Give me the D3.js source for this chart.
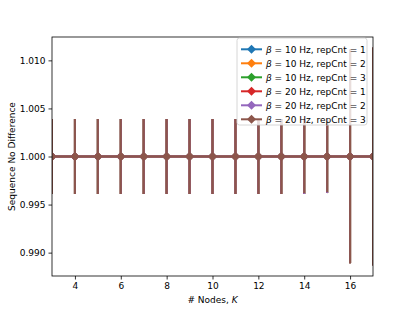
<!DOCTYPE html>
<html>
<head>
<meta charset="utf-8">
<script src="https://cdn.jsdelivr.net/npm/d3@7"></script>
<style>
  body { margin: 0; background: #fff; }
  svg { font-family: "DejaVu Sans", sans-serif; }
</style>
</head>
<body>
<svg id="chart"></svg>
<script>
const nodes = [3, 4, 5, 6, 7, 8, 9, 10, 11, 12, 13, 14, 15, 16, 17]
const seriesLabels = [
    {beta: 10, rep: 1}, {beta: 10, rep: 2}, {beta: 10, rep: 3},
    {beta: 20, rep: 1}, {beta: 20, rep: 2}, {beta: 20, rep: 3}
]
const colors = ["#1f77b4", "#ff7f0e", "#2ca02c", "#d62728", "#9467bd", "#8c564b"]
// every series sits at 1.0; only the spread differs
const means = [
    [1, 1, 1, 1, 1, 1, 1, 1, 1, 1, 1, 1, 1, 1, 1],
    [1, 1, 1, 1, 1, 1, 1, 1, 1, 1, 1, 1, 1, 1, 1],
    [1, 1, 1, 1, 1, 1, 1, 1, 1, 1, 1, 1, 1, 1, 1],
    [1, 1, 1, 1, 1, 1, 1, 1, 1, 1, 1, 1, 1, 1, 1],
    [1, 1, 1, 1, 1, 1, 1, 1, 1, 1, 1, 1, 1, 1, 1],
    [1, 1, 1, 1, 1, 1, 1, 1, 1, 1, 1, 1, 1, 1, 1]
]
const errs = [
    [0.0039, 0.0039, 0.0039, 0.0039, 0.0039, 0.0039, 0.0039, 0.0039, 0.0039, 0.0039, 0.0039, 0.0039, 0.0038, 0.0111, 0.0113],
    [0.0039, 0.0039, 0.0039, 0.0039, 0.0039, 0.0039, 0.0039, 0.0039, 0.0039, 0.0039, 0.0039, 0.0039, 0.0038, 0.0111, 0.0113],
    [0.0039, 0.0039, 0.0039, 0.0039, 0.0039, 0.0039, 0.0039, 0.0039, 0.0039, 0.0039, 0.0039, 0.0039, 0.0038, 0.0111, 0.0113],
    [0.0039, 0.0039, 0.0039, 0.0039, 0.0039, 0.0039, 0.0039, 0.0039, 0.0039, 0.0039, 0.0039, 0.0039, 0.0038, 0.0111, 0.0113],
    [0.0039, 0.0039, 0.0039, 0.0039, 0.0039, 0.0039, 0.0039, 0.0039, 0.0039, 0.0039, 0.0039, 0.0039, 0.0038, 0.0111, 0.0113],
    [0.0039, 0.0039, 0.0039, 0.0039, 0.0039, 0.0039, 0.0039, 0.0039, 0.0039, 0.0039, 0.0039, 0.0038, 0.0037, 0.0111, 0.0113]
]
const xTicks = [4, 6, 8, 10, 12, 14, 16]
const yTicks = [0.990, 0.995, 1.000, 1.005, 1.010]

const width = 415, height = 311
const margin = {top: 37, right: 42, bottom: 35, left: 52}

const x = d3.scaleLinear()
    .domain([3, 17])
    .range([margin.left, width - margin.right])

const y = d3.scaleLinear()
    .domain([0.98757, 1.01243])
    .range([height - margin.bottom, margin.top])

const svg = d3.select("svg#chart")
    .attr("width", width)
    .attr("height", height)

svg.append("defs").append("clipPath")
    .attr("id", "clip")
    .append("rect")
    .attr("x", margin.left).attr("y", margin.top)
    .attr("width", width - margin.left - margin.right)
    .attr("height", height - margin.top - margin.bottom)

const plot = svg.append("g").attr("clip-path", "url(#clip)")

const diamond = (cx, cy, r) => `M${cx},${cy - r}L${cx + r},${cy}L${cx},${cy + r}L${cx - r},${cy}Z`

seriesLabels.forEach((s, i) => {
    const pts = nodes.map((k, j) => ({k, v: means[i][j], e: errs[i][j]}))
    const g = plot.append("g")
    g.selectAll("line.err")
        .data(pts)
        .join("line")
        .attr("class", "err")
        .attr("x1", d => x(d.k)).attr("x2", d => x(d.k))
        .attr("y1", d => y(d.v - d.e)).attr("y2", d => y(d.v + d.e))
        .attr("stroke", colors[i])
        .attr("stroke-width", 2)
    g.append("path")
        .datum(pts)
        .attr("d", d3.line().x(d => x(d.k)).y(d => y(d.v)))
        .attr("fill", "none")
        .attr("stroke", colors[i])
        .attr("stroke-width", 2)
    g.selectAll("path.mk")
        .data(pts)
        .join("path")
        .attr("class", "mk")
        .attr("d", d => diamond(x(d.k), y(d.v), 4.5))
        .attr("fill", colors[i])
})

// axes
const xAxis = g => g
    .attr("transform", `translate(0,${height - margin.bottom})`)
    .call(d3.axisBottom(x).tickValues(xTicks).tickSize(3.5).tickPadding(3).tickFormat(d3.format("d")))
    .call(g => g.select(".domain").remove())

const yAxis = g => g
    .attr("transform", `translate(${margin.left},0)`)
    .call(d3.axisLeft(y).tickValues(yTicks).tickSize(3.5).tickPadding(3).tickFormat(d3.format(".3f")))
    .call(g => g.select(".domain").remove())

svg.append("g").call(xAxis)
svg.append("g").call(yAxis)
svg.selectAll(".tick text").attr("font-size", 9).attr("font-family", "DejaVu Sans").attr("fill", "#000")
svg.selectAll(".tick line").attr("stroke", "#000").attr("stroke-width", 0.8)

svg.append("rect")
    .attr("x", margin.left).attr("y", margin.top)
    .attr("width", width - margin.left - margin.right)
    .attr("height", height - margin.top - margin.bottom)
    .attr("fill", "none")
    .attr("stroke", "#000")
    .attr("stroke-width", 0.8)

svg.append("text")
    .attr("x", (margin.left + width - margin.right) / 2)
    .attr("y", 303)
    .attr("text-anchor", "middle")
    .attr("font-size", 9)
    .call(t => {
        t.append("tspan").text("# Nodes, ")
        t.append("tspan").attr("font-style", "italic").text("K")
    })

svg.append("text")
    .attr("transform", `translate(15,${(margin.top + height - margin.bottom) / 2}) rotate(-90)`)
    .attr("text-anchor", "middle")
    .attr("font-size", 9)
    .text("Sequence No Difference")

// legend
const lg = svg.append("g").attr("transform", "translate(237,38)")
lg.append("rect")
    .attr("width", 130).attr("height", 87)
    .attr("rx", 2.5)
    .attr("fill", "#fff").attr("fill-opacity", 0.8)
    .attr("stroke", "#ccc").attr("stroke-width", 0.8)

seriesLabels.forEach((s, i) => {
    const row = lg.append("g").attr("transform", `translate(0,${11.3 + i * 14})`)
    row.append("line")
        .attr("x1", 4).attr("x2", 25)
        .attr("stroke", colors[i]).attr("stroke-width", 2)
    row.append("path")
        .attr("d", diamond(14.5, 0, 4.5))
        .attr("fill", colors[i])
    const t = row.append("text")
        .attr("x", 29).attr("y", 3.3)
        .attr("font-size", 9)
    t.append("tspan").attr("font-style", "italic").text("β")
    t.append("tspan").text(` = ${s.beta} Hz, `)
    t.append("tspan").text("repCnt")
    t.append("tspan").text(` = ${s.rep}`)
})
</script>
</body>
</html>
